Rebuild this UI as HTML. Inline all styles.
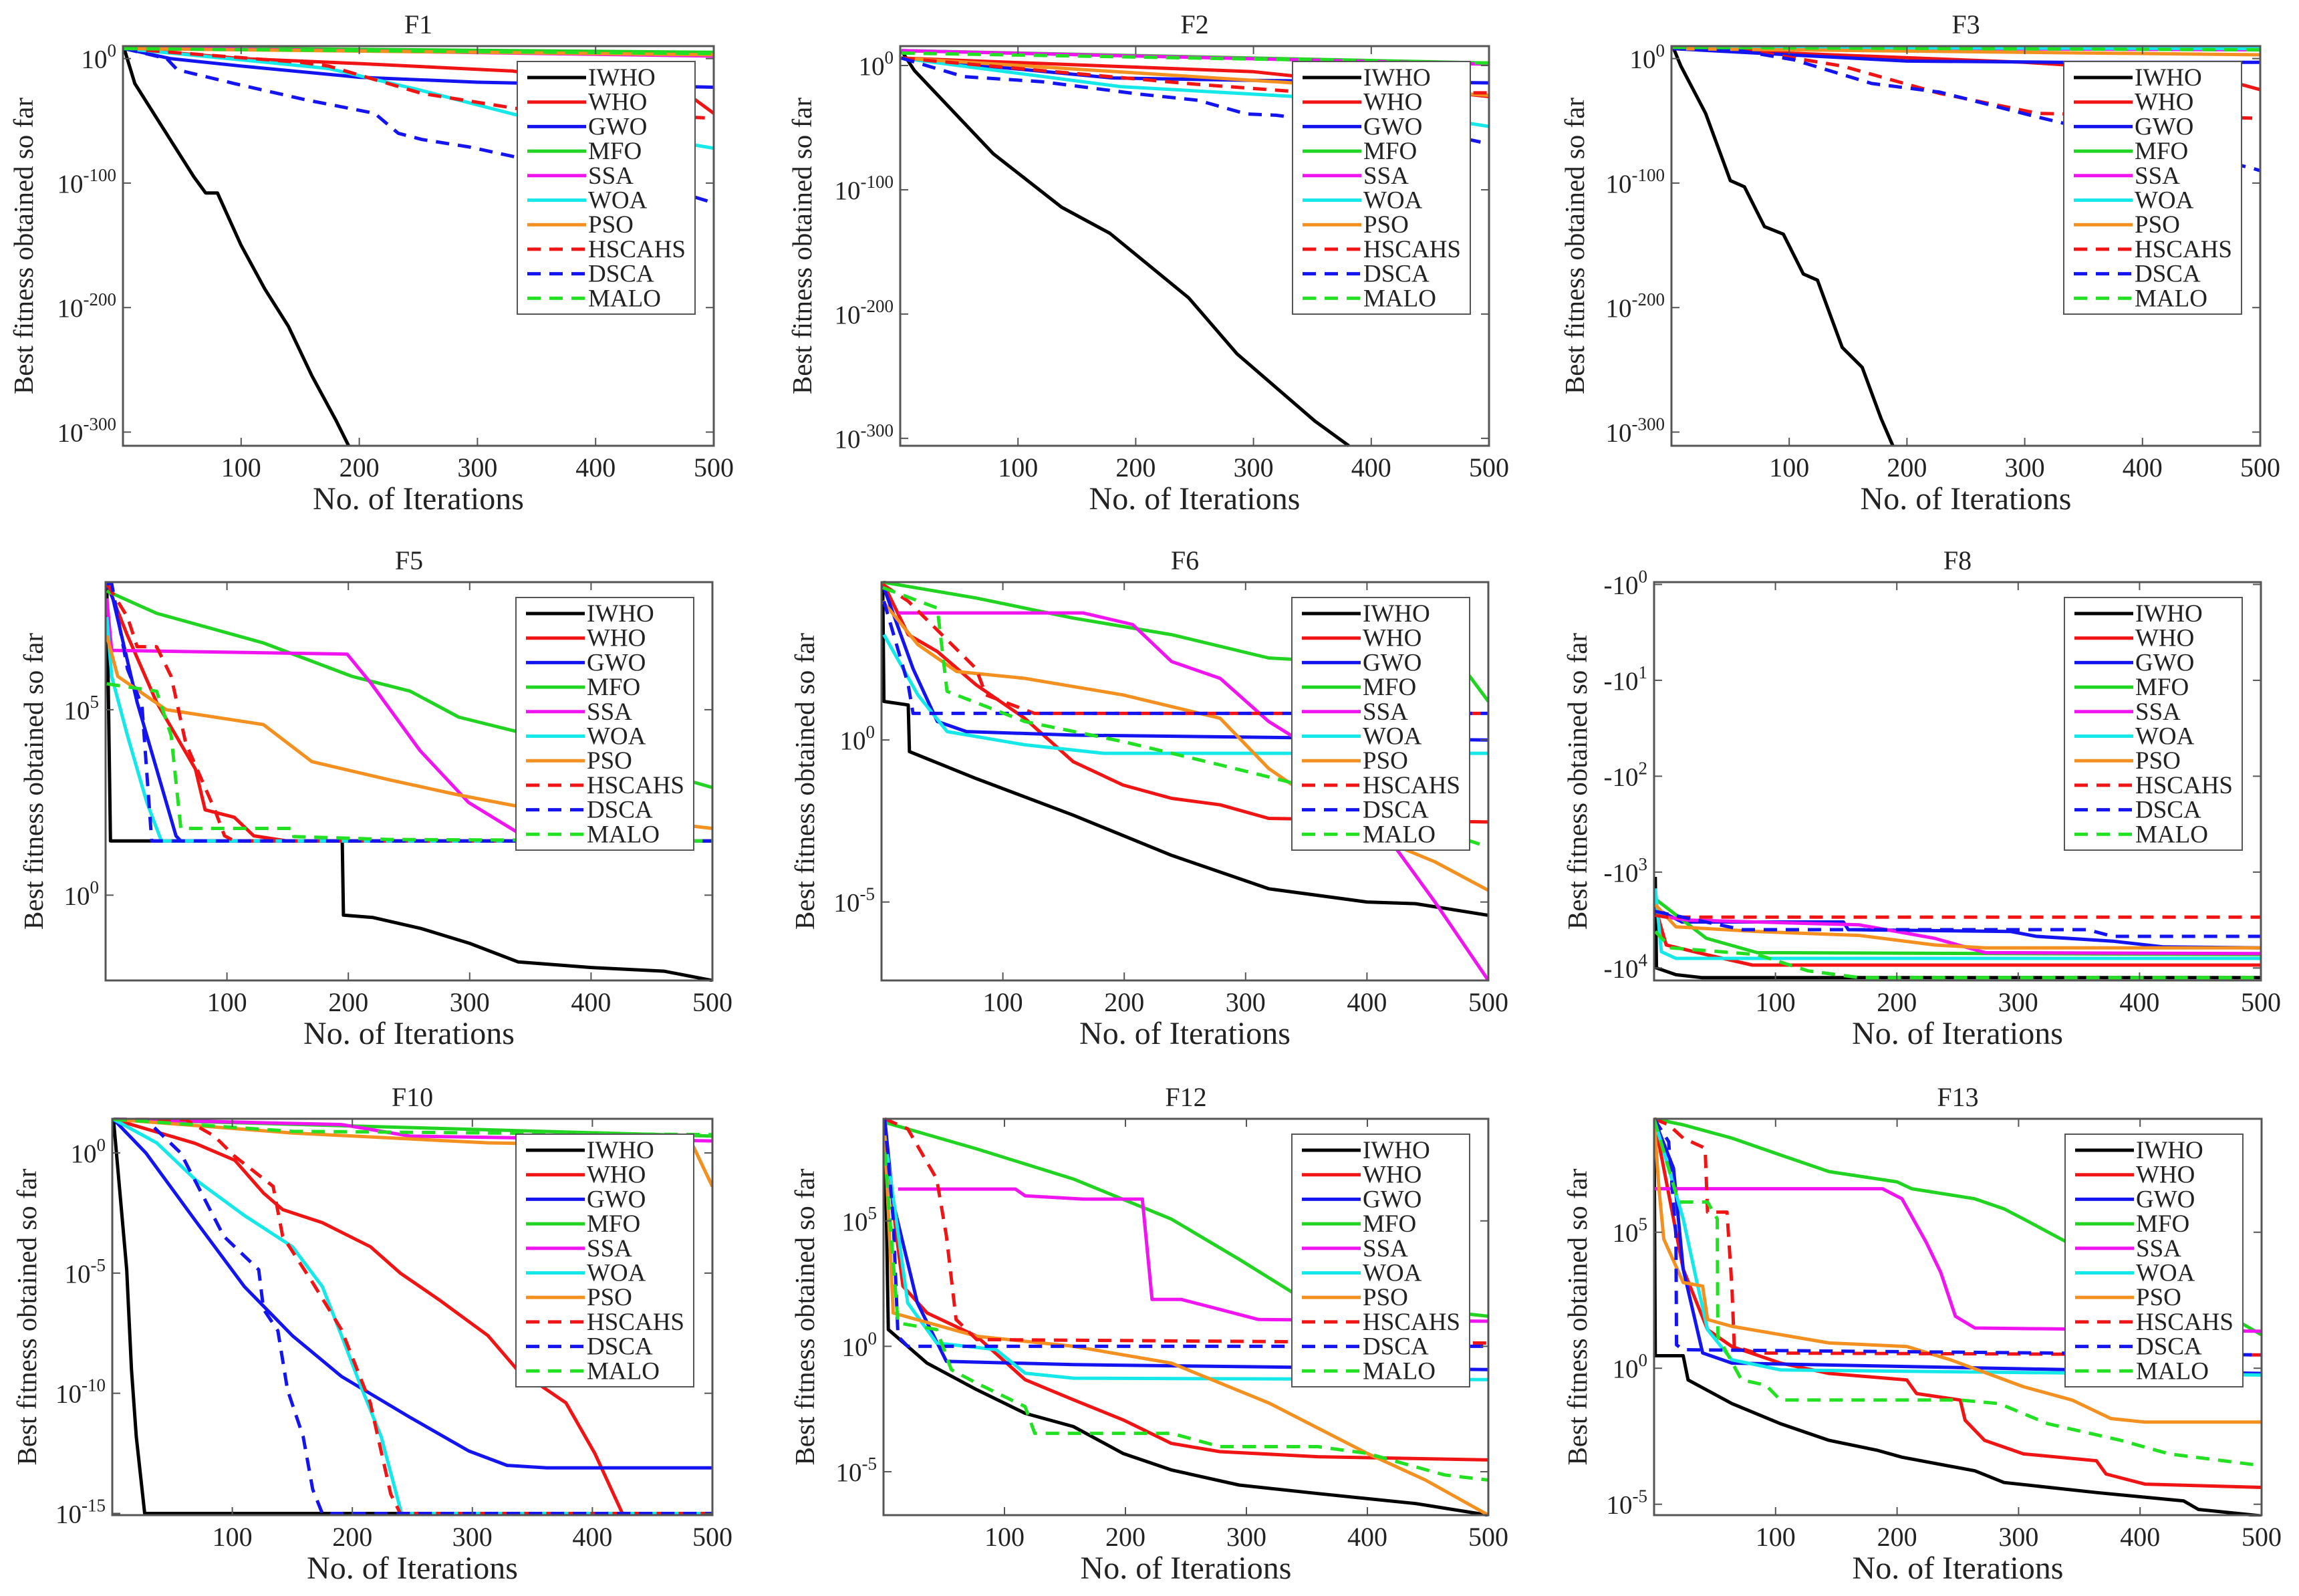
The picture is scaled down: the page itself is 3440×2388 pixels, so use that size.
<!DOCTYPE html>
<html><head><meta charset="utf-8"><style>
html,body{margin:0;padding:0;background:#fff}
svg{display:block}
text{font-family:"Liberation Serif",serif;fill:#222}
</style></head><body>
<svg id="fig" xmlns="http://www.w3.org/2000/svg" width="3440" height="2388" viewBox="0 0 3440 2388">
<rect width="3440" height="2388" fill="#fff"/>
</svg>
<script>
// ---------- shared ----------
const seriesNames = ['IWHO','WHO','GWO','MFO','SSA','WOA','PSO','HSCAHS','DSCA','MALO'];
const seriesColors = ['#000000','#f01414','#1414f0','#22d422','#f014f0','#14e8e8','#f39020','#f01414','#1414f0','#22e022'];
const seriesDashed = [0,0,0,0,0,0,0,1,1,1];
const xTicks = [100,200,300,400,500];

// ---------- F1 (log10 values) ----------
const F1_IWHO=[[1,8],[10,-20],[30,-50],[50,-80],[60,-95],[70,-108],[80,-108],[100,-150],[120,-185],[140,-215],[160,-255],[180,-290],[191,-311]];
const F1_WHO=[[1,8],[100,0],[200,-4],[330,-10],[480,-30],[500,-44]];
const F1_GWO=[[1,8],[40,0],[100,-6],[200,-15],[300,-19],[500,-23]];
const F1_MFO=[[1,9],[500,5]];
const F1_SSA=[[1,9],[500,2]];
const F1_WOA=[[1,8],[100,-1],[174,-8],[250,-25],[332,-45],[500,-72]];
const F1_PSO=[[1,8],[500,3]];
const F1_HSCAHS=[[1,8],[150,-3],[174,-6],[253,-28],[332,-40],[500,-48]];
const F1_DSCA=[[1,8],[37,0],[46,-9],[94,-20],[154,-33],[213,-44],[233,-60],[253,-65],[293,-71],[332,-79],[483,-111],[500,-116]];
const F1_MALO=[[1,8],[500,4]];
// ---------- F2 ----------
const F2_IWHO=[[1,12],[12,-4],[79,-71],[137,-114],[178,-135],[245,-187],[286,-232],[319,-259],[352,-286],[381,-306]];
const F2_WHO=[[1,6],[300,-5],[500,-25]];
const F2_GWO=[[1,6],[180,-10],[300,-12],[500,-14]];
const F2_MFO=[[1,12],[500,2]];
const F2_SSA=[[1,12],[500,1]];
const F2_WOA=[[1,6],[187,-17],[336,-25],[500,-49]];
const F2_PSO=[[1,6],[500,-24]];
const F2_HSCAHS=[[1,6],[250,-15],[350,-22],[500,-22]];
const F2_DSCA=[[1,6],[54,-9],[120,-13],[203,-23],[253,-28],[294,-39],[319,-40],[485,-60],[500,-63]];
const F2_MALO=[[1,10],[500,2]];
// ---------- F3 ----------
const F3_IWHO=[[1,10],[8,-6],[29,-44],[50,-98],[62,-103],[79,-135],[95,-141],[112,-173],[124,-178],[145,-232],[162,-248],[178,-289],[188,-311]];
const F3_WHO=[[1,8],[300,-3],[450,-12],[500,-25]];
const F3_GWO=[[1,8],[200,-2],[330,-3],[500,-3]];
const F3_MFO=[[1,9],[500,8]];
const F3_SSA=[[1,9],[500,7]];
const F3_WOA=[[1,9],[500,8]];
const F3_PSO=[[1,8],[500,3]];
const F3_HSCAHS=[[1,8],[62,7],[145,-6],[228,-28],[311,-44],[500,-48]];
const F3_DSCA=[[1,8],[54,7],[104,-1],[170,-20],[228,-27],[311,-47],[493,-88],[500,-90]];
const F3_MALO=[[1,9],[500,7]];
// ---------- F5 ----------
const F5_IWHO=[[1,8.4],[4,1.46],[195,1.46],[196,-0.54],[220,-0.6],[260,-0.9],[300,-1.3],[340,-1.8],[400,-1.95],[460,-2.05],[500,-2.3]];
const F5_WHO=[[1,8.4],[18,7],[42,5.2],[74,3.4],[82,2.3],[106,2.1],[122,1.6],[150,1.46],[500,1.46]];
const F5_GWO=[[1,8.4],[6,8],[26,5.2],[42,3.4],[58,1.6],[62,1.46],[500,1.46]];
const F5_MFO=[[1,8.2],[42,7.6],[130,6.8],[203,5.9],[251,5.5],[291,4.8],[340,4.4],[500,2.9]];
const F5_SSA=[[1,8],[5,6.6],[199,6.5],[219,5.7],[259,3.9],[299,2.5],[339,1.7],[370,1.46],[500,1.46]];
const F5_WOA=[[1,7.5],[5,5.9],[18,4.3],[34,2.5],[46,1.46],[500,1.46]];
const F5_PSO=[[1,7],[10,5.9],[50,5.0],[130,4.6],[170,3.6],[235,3.1],[291,2.7],[339,2.4],[500,1.8]];
const F5_HSCAHS=[[1,8.4],[18,7.5],[26,6.7],[42,6.7],[54,5.9],[66,4.1],[90,2.3],[98,1.6],[106,1.46],[500,1.46]];
const F5_DSCA=[[1,8.4],[5,8.4],[18,6.1],[30,5.1],[38,1.46],[500,1.46]];
const F5_MALO=[[1,5.7],[42,5.5],[54,4.3],[62,1.8],[154,1.8],[155,1.58],[235,1.5],[500,1.46]];
// ---------- F6 ----------
const F6_IWHO=[[1,4.87],[2,1.19],[22,1.08],[23,-0.36],[78,-1.19],[158,-2.32],[239,-3.56],[319,-4.59],[400,-5],[440,-5.05],[500,-5.41]];
const F6_WHO=[[1,4.87],[22,3.25],[46,2.73],[78,1.7],[118,0.67],[158,-0.67],[199,-1.39],[239,-1.8],[279,-2.0],[319,-2.42],[500,-2.53]];
const F6_GWO=[[1,4.8],[26,2.2],[46,0.57],[70,0.26],[158,0.15],[500,0]];
const F6_MFO=[[1,4.87],[78,4.38],[158,3.76],[239,3.25],[319,2.53],[480,2.2],[500,1.19]];
const F6_SSA=[[14,3.92],[166,3.92],[207,3.56],[239,2.42],[279,1.9],[319,0.57],[359,-0.36],[416,-2.94],[456,-5],[500,-7.42]];
const F6_WOA=[[2,3.25],[30,1.39],[54,0.26],[118,-0.15],[183,-0.41],[500,-0.41]];
const F6_PSO=[[1,4.28],[30,2.94],[62,2.11],[118,1.9],[199,1.39],[279,0.67],[319,-0.88],[343,-1.5],[416,-3.14],[456,-3.76],[500,-4.64]];
const F6_HSCAHS=[[1,4.8],[22,4.28],[78,2.2],[86,1.39],[126,0.82],[500,0.82]];
const F6_DSCA=[[2,4.28],[22,1.7],[26,0.82],[500,0.82]];
const F6_MALO=[[1,4.7],[46,4.07],[54,1.5],[118,0.57],[199,-0.05],[279,-0.77],[335,-1.29],[500,-3.3]];
// ---------- F8 (log10 of -f) ----------
const F8_IWHO=[[1,3.05],[2,4.0],[18,4.07],[39,4.1],[500,4.1]];
const F8_WHO=[[2,3.41],[10,3.76],[43,3.86],[81,3.97],[500,3.97]];
const F8_GWO=[[1,3.38],[23,3.52],[156,3.52],[160,3.6],[294,3.62],[315,3.67],[378,3.72],[420,3.78],[500,3.79]];
const F8_MFO=[[1,3.28],[43,3.69],[85,3.84],[500,3.86]];
const F8_SSA=[[1,3.45],[27,3.5],[169,3.55],[231,3.69],[273,3.84],[500,3.85]];
const F8_WOA=[[1,3.17],[6,3.83],[18,3.9],[500,3.9]];
const F8_PSO=[[1,3.34],[18,3.57],[85,3.62],[169,3.66],[231,3.76],[273,3.79],[500,3.79]];
const F8_HSCAHS=[[1,3.45],[10,3.47],[500,3.47]];
const F8_DSCA=[[1,3.41],[73,3.6],[357,3.6],[378,3.67],[500,3.67]];
const F8_MALO=[[1,3.62],[14,3.79],[85,3.86],[127,4.03],[169,4.1],[500,4.1]];
// ---------- F10 ----------
const F10_IWHO=[[1,1.4],[12,-4.86],[16,-9],[20,-11.8],[27,-15],[500,-15]];
const F10_WHO=[[1,1.4],[69,0.4],[102,-0.3],[126,-1.67],[142,-2.36],[175,-2.9],[215,-3.9],[240,-5],[272,-6.1],[313,-7.6],[337,-9],[378,-10.4],[402,-12.5],[425,-15]];
const F10_GWO=[[1,1.4],[28,0],[69,-2.8],[110,-5.56],[150,-7.6],[191,-9.3],[248,-11],[297,-12.4],[329,-13],[362,-13.1],[500,-13.1]];
const F10_MFO=[[1,1.4],[500,0.7]];
const F10_SSA=[[1,1.4],[191,1.18],[248,0.7],[500,0.5]];
const F10_WOA=[[1,1.4],[37,0.42],[69,-1.1],[110,-2.6],[150,-3.9],[175,-5.56],[191,-7.6],[207,-9.7],[224,-11.8],[241,-15],[500,-15]];
const F10_PSO=[[1,1.4],[150,0.83],[313,0.42],[484,0.28],[500,-1.4]];
const F10_HSCAHS=[[1,1.4],[61,1.39],[85,0.7],[102,-0.14],[134,-1.39],[142,-3.47],[167,-5.4],[191,-7.36],[215,-10.4],[232,-14.2],[240,-15],[500,-15]];
const F10_DSCA=[[1,1.4],[28,1.39],[57,0],[93,-3.47],[122,-4.86],[126,-6.5],[138,-7.4],[146,-9.86],[159,-11.8],[167,-14],[175,-15],[500,-15]];
const F10_MALO=[[1,1.4],[150,0.9],[313,0.83],[500,0.76]];
// ---------- F12 ----------
const F12_IWHO=[[1,9.07],[4,0.67],[36,-0.67],[77,-1.73],[117,-2.67],[157,-3.2],[198,-4.27],[238,-4.93],[294,-5.53],[359,-5.87],[440,-6.27],[500,-6.73]];
const F12_WHO=[[1,9.07],[8,5.47],[16,2.4],[36,1.33],[77,0.4],[117,-1.33],[157,-2.13],[198,-2.93],[238,-3.87],[278,-4.2],[359,-4.4],[500,-4.53]];
const F12_GWO=[[1,9.07],[8,5.73],[28,1.73],[52,-0.6],[157,-0.73],[500,-0.93]];
const F12_MFO=[[1,8.93],[77,7.87],[157,6.67],[238,5.07],[294,3.47],[343,2],[500,1.2]];
const F12_SSA=[[12,6.27],[109,6.27],[117,6],[165,5.87],[214,5.87],[222,1.87],[246,1.87],[278,1.47],[310,1.07],[500,1]];
const F12_WOA=[[1,8.4],[20,1.73],[44,0.13],[93,-0.13],[117,-1.07],[157,-1.27],[500,-1.33]];
const F12_PSO=[[1,8.4],[8,1.33],[77,0.4],[157,0],[238,-0.67],[319,-2.27],[400,-4.27],[448,-5.33],[500,-6.73]];
const F12_HSCAHS=[[1,9.07],[20,8.67],[44,6.67],[52,4.4],[60,1.07],[77,0.27],[500,0.13]];
const F12_DSCA=[[1,9.07],[8,5.07],[12,0.4],[20,0],[500,0]];
const F12_MALO=[[1,7.73],[12,0.93],[44,0.67],[56,-0.93],[77,-1.47],[117,-2.4],[125,-3.47],[238,-3.47],[278,-4],[359,-4],[400,-4.27],[464,-5.13],[500,-5.33]];
// ---------- F13 ----------
const F13_IWHO=[[0,9.17],[1,0.46],[24,0.46],[28,-0.43],[64,-1.3],[104,-2.04],[144,-2.65],[184,-3.02],[204,-3.27],[264,-3.77],[288,-4.2],[364,-4.57],[436,-4.88],[448,-5.19],[500,-5.43]];
const F13_WHO=[[0,9.17],[8,7.35],[24,3.64],[44,1.42],[64,0.8],[104,0.19],[144,-0.19],[208,-0.43],[216,-0.93],[252,-1.17],[256,-1.91],[272,-2.65],[304,-3.15],[364,-3.4],[372,-3.89],[404,-4.26],[500,-4.38]];
const F13_GWO=[[0,9.17],[16,7.35],[24,3.64],[40,0.56],[64,0.19],[500,-0.19]];
const F13_MFO=[[0,9.17],[24,8.95],[64,8.46],[104,7.84],[144,7.23],[200,6.85],[212,6.6],[264,6.23],[288,5.86],[304,5.49],[340,4.63],[400,3.5],[470,2],[500,1.23]];
const F13_SSA=[[0,6.6],[188,6.6],[204,6.23],[224,4.63],[236,3.52],[248,1.91],[264,1.48],[500,1.36]];
const F13_WOA=[[0,9.17],[12,7.35],[24,5.49],[36,3.02],[44,1.42],[64,0.31],[104,-0.06],[500,-0.25]];
const F13_PSO=[[0,9.17],[4,6.6],[8,4.75],[24,3.15],[40,3.02],[44,1.79],[64,1.54],[144,0.93],[208,0.8],[244,0.31],[304,-0.68],[344,-1.17],[376,-1.85],[404,-1.98],[500,-1.98]];
const F13_HSCAHS=[[0,9.17],[12,8.95],[24,8.46],[42,8.09],[44,5.74],[60,5.74],[64,3.02],[66,0.8],[84,0.56],[500,0.49]];
const F13_DSCA=[[0,9.17],[12,8.33],[18,4.88],[18.5,0.86],[24,0.68],[500,0.49]];
const F13_MALO=[[0,9.17],[8,7.96],[20,6.11],[44,6.11],[52,5.49],[52.5,1.17],[72,-0.43],[92,-0.62],[104,-1.17],[252,-1.17],[284,-1.3],[324,-2.04],[384,-2.65],[424,-3.15],[500,-3.58]];

// ---------- panel tick labels (exponents) ----------
const F1_yTicks=[0,-100,-200,-300];
const F2_yTicks=[0,-100,-200,-300];
const F3_yTicks=[0,-100,-200,-300];
const F5_yTicks=[5,0];
const F6_yTicks=[0,-5];
const F8_yTicks=[0,1,2,3,4];
const F10_yTicks=[0,-5,-10,-15];
const F12_yTicks=[5,0,-5];
const F13_yTicks=[5,0,-5];

// layout (pixel geometry, not data)
const panels = [
 {id:'F1', L:184, R:1068, T:69, B:667, ylx:35, eTop:10, eBot:-311, ticks:F1_yTicks, neg:false, data:[F1_IWHO,F1_WHO,F1_GWO,F1_MFO,F1_SSA,F1_WOA,F1_PSO,F1_HSCAHS,F1_DSCA,F1_MALO]},
 {id:'F2', L:1347, R:2228, T:69, B:667, ylx:1200, eTop:15.6, eBot:-306, ticks:F2_yTicks, neg:false, data:[F2_IWHO,F2_WHO,F2_GWO,F2_MFO,F2_SSA,F2_WOA,F2_PSO,F2_HSCAHS,F2_DSCA,F2_MALO]},
 {id:'F3', L:2501, R:3382, T:69, B:667, ylx:2356, eTop:10, eBot:-311, ticks:F3_yTicks, neg:false, data:[F3_IWHO,F3_WHO,F3_GWO,F3_MFO,F3_SSA,F3_WOA,F3_PSO,F3_HSCAHS,F3_DSCA,F3_MALO]},
 {id:'F5', L:158, R:1066, T:871, B:1467, ylx:50, eTop:8.44, eBot:-2.3, ticks:F5_yTicks, neg:false, data:[F5_IWHO,F5_WHO,F5_GWO,F5_MFO,F5_SSA,F5_WOA,F5_PSO,F5_HSCAHS,F5_DSCA,F5_MALO]},
 {id:'F6', L:1319, R:2227, T:871, B:1467, ylx:1204, eTop:4.87, eBot:-7.42, ticks:F6_yTicks, neg:false, data:[F6_IWHO,F6_WHO,F6_GWO,F6_MFO,F6_SSA,F6_WOA,F6_PSO,F6_HSCAHS,F6_DSCA,F6_MALO]},
 {id:'F8', L:2475, R:3383, T:871, B:1467, ylx:2360, eTop:-0.024, eBot:4.13, ticks:F8_yTicks, neg:true, data:[F8_IWHO,F8_WHO,F8_GWO,F8_MFO,F8_SSA,F8_WOA,F8_PSO,F8_HSCAHS,F8_DSCA,F8_MALO]},
 {id:'F10', L:168, R:1066, T:1674, B:2267, ylx:40, eTop:1.42, eBot:-15.07, ticks:F10_yTicks, neg:false, data:[F10_IWHO,F10_WHO,F10_GWO,F10_MFO,F10_SSA,F10_WOA,F10_PSO,F10_HSCAHS,F10_DSCA,F10_MALO]},
 {id:'F12', L:1322, R:2227, T:1674, B:2267, ylx:1204, eTop:9.07, eBot:-6.73, ticks:F12_yTicks, neg:false, data:[F12_IWHO,F12_WHO,F12_GWO,F12_MFO,F12_SSA,F12_WOA,F12_PSO,F12_HSCAHS,F12_DSCA,F12_MALO]},
 {id:'F13', L:2475, R:3384, T:1674, B:2267, ylx:2360, eTop:9.17, eBot:-5.4, ticks:F13_yTicks, neg:false, data:[F13_IWHO,F13_WHO,F13_GWO,F13_MFO,F13_SSA,F13_WOA,F13_PSO,F13_HSCAHS,F13_DSCA,F13_MALO]}
];

const NS='http://www.w3.org/2000/svg';
const svg=document.getElementById('fig');
function mk(tag, attrs, parent){
  const e=document.createElementNS(NS,tag);
  for(const k in attrs) e.setAttribute(k,attrs[k]);
  (parent||svg).appendChild(e);
  return e;
}

panels.forEach(function(p){
  const g=mk('g',{});
  
  
  const X=function(it){return p.L+it/500*(p.R-p.L);};
  const Y=function(e){return p.T+(e-p.eTop)/(p.eBot-p.eTop)*(p.B-p.T);};
  const cid='clip'+p.id;
  const cp=mk('clipPath',{id:cid},g);
  mk('rect',{x:p.L,y:p.T-2,width:p.R-p.L,height:p.B-p.T+4},cp);
  mk('rect',{x:p.L,y:p.T,width:p.R-p.L,height:p.B-p.T,fill:'#fff'},g);

  const sg=mk('g',{'clip-path':'url(#'+cid+')'},g);
  p.data.forEach(function(arr,i){
    const d=arr.map(function(pt,j){return (j?'L':'M')+X(pt[0]).toFixed(1)+','+Y(pt[1]).toFixed(1);}).join(' ');
    const path=mk('path',{d:d,fill:'none',stroke:seriesColors[i],'stroke-width':5,'stroke-linejoin':'round'},sg);
    if(seriesDashed[i]) path.setAttribute('stroke-dasharray','20 13');
    
    
  });

  const box=mk('rect',{x:p.L,y:p.T,width:p.R-p.L,height:p.B-p.T,fill:'none',stroke:'#555','stroke-width':3},g);
  
  

  xTicks.forEach(function(t){
    const x=X(t);
    mk('line',{x1:x,y1:p.B,x2:x,y2:p.B-12,stroke:'#555','stroke-width':2},g);
    mk('line',{x1:x,y1:p.T,x2:x,y2:p.T+12,stroke:'#555','stroke-width':2},g);
    const tl=mk('text',{x:x,y:p.B+46,'font-size':40,'text-anchor':'middle'},g);
    tl.textContent=String(t);
    
    
  });
  p.ticks.forEach(function(e){
    const y=Y(e);
    mk('line',{x1:p.L,y1:y,x2:p.L+12,y2:y,stroke:'#555','stroke-width':2},g);
    mk('line',{x1:p.R,y1:y,x2:p.R-12,y2:y,stroke:'#555','stroke-width':2},g);
    const tl=mk('text',{x:p.L-10,y:y+14,'font-size':39,'text-anchor':'end'},g);
    
    
    const b=mk('tspan',{},tl); b.textContent=(p.neg?'-':'')+'10';
    const s=mk('tspan',{dy:-17,'font-size':27},tl); s.textContent=String(e);
  });

  const cx=(p.L+p.R)/2;
  const ti=mk('text',{x:cx,y:p.T-19,'font-size':40,'text-anchor':'middle'},g);
  ti.textContent=p.id;
  
  
  const xl=mk('text',{x:cx,y:p.B+95,'font-size':48,'text-anchor':'middle'},g);
  xl.textContent='No. of Iterations';
  
  
  const my=(p.T+p.B)/2, lx=p.ylx+14;
  const yl=mk('text',{x:lx,y:my,'font-size':41,'text-anchor':'middle',transform:'rotate(-90 '+lx+' '+my+')'},g);
  yl.textContent='Best fitness obtained so far';
  
  

  const lg=mk('g',{},g);
  
  
  const bx=p.R-28-266, by=p.T+23;
  mk('rect',{x:bx,y:by,width:266,height:378,fill:'#fff',stroke:'#555','stroke-width':2},lg);
  seriesNames.forEach(function(n,i){
    const yy=by+24+i*36.7;
    const ln=mk('line',{x1:bx+15,y1:yy,x2:bx+103,y2:yy,stroke:seriesColors[i],'stroke-width':5},lg);
    if(seriesDashed[i]) ln.setAttribute('stroke-dasharray','20 13');
    const t=mk('text',{x:bx+106,y:yy+12,'font-size':37},lg);
    t.textContent=n;
    
    
  });
});
</script>
</body></html>
